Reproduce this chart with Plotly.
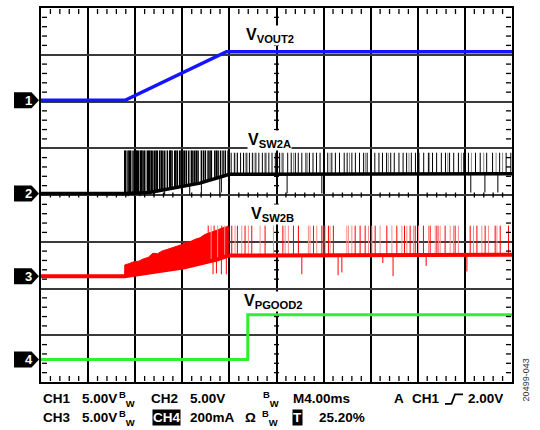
import numpy as np
import plotly.graph_objects as go

# ---------------- scope settings ----------------
T_SPAN_MS = 40.0          # 10 divisions x 4.00 ms
VOLTS_PER_DIV = 5.0
# ground markers of the four channels, in divisions from screen centre
ch_offsets = [2.025, 0.034, -1.736, -3.52]
ch_names = ["1", "2", "3", "4"]

# ---------------- CH1 : VVOUT2 (soft-start ramp) ----------------
ch1_t = [0.0, 7.14, 15.75, 40.0]
ch1_v = [0.0, 0.0, 5.2, 5.2]

# ---------------- CH2 : VSW2A (switch node A) ----------------
ch2_base_t = [0.0, 7.1, 9.2, 13.5, 16.0, 40.0]
ch2_base_v = [0.0, 0.0, 0.1, 1.1, 2.05, 2.1]
ch2_burst_t = [7.11, 7.2, 7.39, 7.5, 7.62, 7.82, 8.01, 8.1, 8.18, 8.30, 8.47, 8.55,
               8.67, 8.81, 9.03, 9.15, 9.24, 9.37, 9.5, 9.66, 9.78, 9.88, 10.08,
               10.22, 10.35, 10.51, 10.73, 10.93, 11.0, 11.13, 11.36, 11.45, 11.58,
               11.78, 11.9, 12.06, 12.2, 12.35, 12.55, 12.77, 12.9, 13.06, 13.2,
               13.34, 13.62, 13.8, 13.96, 14.19, 14.35, 14.47, 14.76, 14.9, 15.04,
               15.25, 15.46, 15.65, 15.89]
ch2_burst_top = 4.6
ch2_spk_t = [16.15, 16.42, 16.68, 16.95, 17.2, 17.48, 17.7, 17.95, 18.25, 18.5, 18.8,
             19.1, 19.35, 19.62, 19.9, 20.25, 20.55, 20.95, 21.25, 21.6, 21.85, 22.15,
             22.5, 22.8, 23.1, 23.4, 23.7, 24.05, 24.35, 24.7, 25.0, 25.35, 25.75, 26.0,
             26.4, 26.7, 27.05, 27.4, 27.7, 28.0, 28.35, 28.7, 29.0, 29.35, 29.7, 30.0,
             30.4, 30.75, 31.05, 31.45, 31.8, 32.1, 32.5, 32.9, 33.25, 33.6, 34.0,
             34.35, 34.7, 35.05, 35.45, 35.9, 36.3, 36.9, 37.3, 37.85, 38.35, 38.95,
             39.5, 39.9]
ch2_faint_t = [16.55, 17.35, 18.1, 19.0, 20.4, 21.45, 22.65, 24.55, 26.2, 27.55, 29.5,
               31.25, 33.0, 34.55, 35.7, 36.55, 37.6, 38.65, 39.2]
ch2_spk_top = 4.35
ch2_dip_t = [7.4, 7.9, 8.4, 9.6, 10.5, 12.63, 13.62, 15.18, 15.32, 20.9, 23.85, 36.5, 37.7, 38.8]
ch2_dip_v = [-0.3, -0.25, -0.3, -0.2, -0.2, -0.2, 0.0, 0.0, 0.1, 0.0, 0.0, 0.1, 0.1, 0.1]

# ---------------- CH3 : VSW2B (switch node B) ----------------
ch3_base_t = [0.0, 7.1, 12.2, 15.0, 15.9, 40.0]
ch3_base_v = [0.0, 0.0, 0.95, 1.8, 2.2, 2.3]
ch3_env_t = [7.1, 7.12, 7.5, 7.9, 8.3, 8.7, 9.1, 9.5, 9.9, 10.3, 10.7, 11.1, 11.5,
             11.9, 12.3, 12.7, 13.1, 13.5, 13.9, 14.3, 14.7, 15.1, 15.5, 15.9]
ch3_env_v = [0.0, 1.2, 1.35, 1.55, 1.6, 1.85, 2.0, 2.45, 2.4, 2.7, 2.85, 3.0, 3.2,
             3.35, 3.6, 3.7, 3.95, 4.1, 4.45, 4.6, 4.8, 5.0, 5.2, 5.3]
ch3_spk_t = [14.2, 14.7, 15.35, 15.85, 16.20, 16.68, 17.33, 17.90, 19.03, 20.54, 21.44,
             21.86, 23.14, 23.85, 23.98, 24.41, 24.83, 26.68, 27.10, 27.53, 28.38,
             29.37, 30.22, 30.87, 31.35, 31.78, 32.48, 33.05, 33.62, 34.32, 35.17,
             36.45, 37.02, 37.72, 38.57, 39.00, 39.70]
ch3_pale_t = [14.45, 15.0, 15.6, 16.48, 17.05, 17.61, 18.61, 19.74, 20.73, 21.01, 22.71,
              22.85, 23.42, 24.13, 24.55, 25.97, 26.11, 26.40, 27.81, 28.10, 28.80,
              29.80, 30.65, 31.07, 31.63, 32.06, 32.91, 33.48, 33.76, 33.90, 34.75,
              35.03, 35.45, 36.73, 37.44, 38.00, 38.72]
ch3_spk_top = 5.4
ch3_dip_t = [14.61, 14.9, 15.32, 15.74, 22.15, 25.23, 25.55, 29.03, 29.9, 32.71, 36.17]
ch3_dip_v = [0.2, 0.3, 0.2, 0.2, 0.2, 0.1, 0.4, 1.4, 0.0, 1.1, 0.5]

# ---------------- CH4 : VPGOOD2 ----------------
ch4_t = [0.0, 17.56, 17.56, 40.0]
ch4_v = [0.0, 0.0, 4.8, 4.8]

# ---------------- trace labels ----------------
labels = ["V<sub>VOUT2</sub>", "V<sub>SW2A</sub>", "V<sub>SW2B</sub>", "V<sub>PGOOD2</sub>"]

BLUE, BLACK, RED, GREEN = "#1414ff", "#000000", "#ff0000", "#2ef02e"
FONT = "Liberation Sans, Arial, sans-serif"


def to_div(ch, volts):
    return [ch_offsets[ch] + v / VOLTS_PER_DIV for v in volts]


def segments(ch, ts, base_t, base_v, tops):
    """Vertical strokes from the channel baseline up (or down) to the given levels."""
    bases = np.interp(ts, base_t, base_v)
    if np.isscalar(tops):
        tops = [tops] * len(ts)
    xs, ys = [], []
    for t, b, top in zip(ts, bases, tops):
        xs += [t, t, None]
        ys += [ch_offsets[ch] + b / VOLTS_PER_DIV, ch_offsets[ch] + top / VOLTS_PER_DIV, None]
    return xs, ys


fig = go.Figure()

# CH4
fig.add_trace(go.Scatter(x=ch4_t, y=to_div(3, ch4_v), mode="lines",
                         line=dict(color=GREEN, width=3)))

# CH3 burst wedge, spikes, dips, baseline
wx = ch3_env_t + ch3_base_t[4:0:-1]
wy = to_div(2, ch3_env_v) + to_div(2, ch3_base_v[4:0:-1])
fig.add_trace(go.Scatter(x=wx, y=wy, mode="lines", fill="toself", fillcolor=RED,
                         line=dict(color=RED, width=1)))
x, y = segments(2, ch3_pale_t, ch3_base_t, ch3_base_v, ch3_spk_top)
fig.add_trace(go.Scatter(x=x, y=y, mode="lines", line=dict(color="#ff8c8c", width=1)))
x, y = segments(2, ch3_spk_t, ch3_base_t, ch3_base_v, ch3_spk_top)
fig.add_trace(go.Scatter(x=x, y=y, mode="lines", line=dict(color=RED, width=1)))
x, y = segments(2, ch3_dip_t, ch3_base_t, ch3_base_v, ch3_dip_v)
fig.add_trace(go.Scatter(x=x, y=y, mode="lines", line=dict(color=RED, width=1)))
fig.add_trace(go.Scatter(x=ch3_base_t, y=to_div(2, ch3_base_v), mode="lines",
                         line=dict(color=RED, width=4)))

# CH2 burst, spikes, dips, baseline
x, y = segments(1, ch2_faint_t, ch2_base_t, ch2_base_v, ch2_spk_top)
fig.add_trace(go.Scatter(x=x, y=y, mode="lines", line=dict(color="#8a8a8a", width=1)))
x, y = segments(1, ch2_burst_t, ch2_base_t, ch2_base_v, ch2_burst_top)
fig.add_trace(go.Scatter(x=x, y=y, mode="lines", line=dict(color=BLACK, width=1.5)))
x, y = segments(1, ch2_spk_t, ch2_base_t, ch2_base_v, ch2_spk_top)
fig.add_trace(go.Scatter(x=x, y=y, mode="lines", line=dict(color=BLACK, width=1)))
x, y = segments(1, ch2_dip_t, ch2_base_t, ch2_base_v, ch2_dip_v)
fig.add_trace(go.Scatter(x=x, y=y, mode="lines", line=dict(color=BLACK, width=1)))
fig.add_trace(go.Scatter(x=ch2_base_t, y=to_div(1, ch2_base_v), mode="lines",
                         line=dict(color=BLACK, width=3.5)))

# CH1
fig.add_trace(go.Scatter(x=ch1_t, y=to_div(0, ch1_v), mode="lines",
                         line=dict(color=BLUE, width=3.5)))

# ---------------- layout helpers (pixel -> paper) ----------------
L, R, T, B = 41, 512, 6, 382


def PX(x):
    return (x - L) / (R - L)


def PY(y):
    return (B - y) / (B - T)


annotations = []
shapes = []

# graticule sub-division ticks (every 1/5 division): frame ticks and centre crosses
tick_line = dict(color="#000", width=1.3)
for k in range(1, 50):
    if k % 5 == 0:
        continue
    f = k / 50
    # top, bottom and centre-horizontal ticks (pixel lengths anchored on the axis positions)
    for anchor, y0, y1 in [(1.0, -1, -6), (0.0, 1, 6), (0.5, -2.5, 2.5)]:
        shapes.append(dict(type="line", xref="paper", yref="paper", x0=f, x1=f,
                           ysizemode="pixel", yanchor=anchor, y0=y0, y1=y1,
                           line=tick_line, layer="above"))
for k in range(1, 40):
    if k % 5 == 0:
        continue
    f = k / 40
    # left, right and centre-vertical ticks
    for anchor, x0, x1 in [(0.0, 1, 6), (1.0, -1, -6), (0.5, -2.5, 2.5)]:
        shapes.append(dict(type="line", xref="paper", yref="paper", y0=f, y1=f,
                           xsizemode="pixel", xanchor=anchor, x0=x0, x1=x1,
                           line=tick_line, layer="above"))

# channel ground markers
for off, name in zip(ch_offsets, ch_names):
    shapes.append(dict(type="path", xref="paper", yref="y", xsizemode="pixel",
                       ysizemode="pixel", xanchor=0, yanchor=off,
                       path="M-27,-8 L-9.5,-8 L-2,0 L-9.5,8 L-27,8 Z",
                       fillcolor="#000", line=dict(width=0)))
    annotations.append(dict(xref="paper", yref="y", x=0, y=off, xshift=-18,
                            text=name, showarrow=False,
                            font=dict(family=FONT, size=13, color="#fff", weight="bold")))

# trace labels
label_pos = [(245, 34), (247, 139), (250, 214), (243, 301)]
for lab, (lx, ly) in zip(labels, label_pos):
    annotations.append(dict(xref="paper", yref="paper", x=PX(lx), y=PY(ly),
                            xanchor="left", yanchor="middle", text=lab, showarrow=False,
                            bgcolor="#fff", borderpad=0,
                            font=dict(family=FONT, size=16, color="#000", weight="bold")))

# status lines under the graticule
BW = "<sup>B</sup><sub>W</sub>"
row1, row2 = 399, 418
status = [
    ("CH1", 42, row1), ("5.00V", 81, row1), (BW, 118, row1), ("CH2", 150, row1),
    ("5.00V", 189, row1), (BW, 262, row1), ("M4.00ms", 292, row1),
    ("A", 393, row1), ("CH1", 411, row1), ("2.00V", 467, row1),
    ("CH3", 42, row2), ("5.00V", 81, row2), (BW, 118, row2),
    ("200mA", 189, row2), ("Ω", 244, row2), (BW, 261, row2), ("25.20%", 318, row2),
]
for txt, sx, sy in status:
    annotations.append(dict(xref="paper", yref="paper", x=PX(sx), y=PY(sy),
                            xanchor="left", yanchor="middle", text=txt, showarrow=False,
                            borderpad=0,
                            font=dict(family=FONT, size=13.5, color="#000", weight="bold")))
for txt, sx, sy in [("CH4", 152, row2), ("T", 292, row2)]:
    annotations.append(dict(xref="paper", yref="paper", x=PX(sx), y=PY(sy),
                            xanchor="left", yanchor="middle", text=txt, showarrow=False,
                            bgcolor="#000", borderpad=0,
                            font=dict(family=FONT, size=13.5, color="#fff", weight="bold")))

# trigger edge symbol
shapes.append(dict(type="path", xref="paper", yref="paper",
                   path=f"M {PX(445)},{PY(404)} L {PX(451.5)},{PY(404)} "
                        f"L {PX(455)},{PY(394.5)} L {PX(463)},{PY(394.5)}",
                   line=dict(color="#000", width=1.8)))

# figure number
annotations.append(dict(xref="paper", yref="paper", x=PX(533), y=PY(404),
                        text="20499-043", textangle=-90, showarrow=False,
                        font=dict(family=FONT, size=9, color="#333")))

axis_common = dict(showticklabels=False, zeroline=False, showline=True, linecolor="#000",
                   linewidth=2, mirror=True, ticks="", showgrid=True, gridwidth=1.5)

fig.update_layout(
    width=540, height=430,
    margin=dict(l=L, r=540 - R, t=T, b=430 - B),
    paper_bgcolor="#fff", plot_bgcolor="#fff", showlegend=False,
    xaxis=dict(range=[0, T_SPAN_MS], tick0=0, dtick=4, gridcolor="#000", **axis_common),
    yaxis=dict(range=[-4, 4], tick0=0, dtick=1, gridcolor="#3a3a3a", **axis_common),
    annotations=annotations, shapes=shapes,
)

fig.write_html("out.html")
